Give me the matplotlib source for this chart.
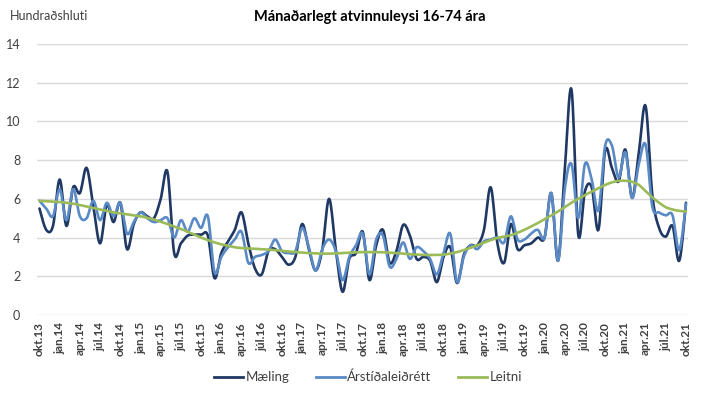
import numpy as np
import matplotlib
matplotlib.use("Agg")
import matplotlib.pyplot as plt
from matplotlib.lines import Line2D

plt.rcParams['font.family'] = ['Lato', 'DejaVu Sans']

# ---- data ----
months = ["okt", "nóv", "des", "jan", "feb", "mar", "apr", "maí", "jún", "júl", "ágú", "sep"]
start_year = 13
n_points = 97
tick_every = 3

maeling = [5.5, 4.4, 4.6, 7.0, 4.6, 6.6, 6.3, 7.6, 5.6, 3.7, 5.7, 4.8, 5.8, 3.4, 4.7, 5.3,
           5.1, 5.0, 6.0, 7.4, 3.2, 3.7, 4.1, 4.15, 4.15, 4.1, 1.9, 3.2, 3.8, 4.4, 5.3, 3.7,
           2.4, 2.1, 3.3, 3.4, 3.0, 2.6, 3.0, 4.7, 3.4, 2.3, 3.4, 6.0, 3.4, 1.2, 2.9, 3.2,
           4.3, 1.8, 3.6, 4.4, 2.7, 3.3, 4.65, 4.1, 2.9, 3.0, 2.8, 1.7, 3.0, 3.5, 1.65, 3.1,
           3.6, 3.6, 4.4, 6.6, 3.7, 2.7, 4.7, 3.4, 3.6, 3.7, 4.0, 4.0, 6.3, 2.8, 7.5, 11.65,
           4.15, 6.4, 6.6, 4.4, 8.5, 7.6, 6.9, 8.55, 6.05, 8.4, 10.8, 6.2, 4.5, 4.05, 4.6, 2.8,
           5.8]

arstidaleidrett = [5.9, 5.5, 5.1, 6.5, 4.9, 6.5, 5.1, 5.0, 5.9, 4.9, 5.8, 5.1, 5.8, 4.2, 4.8, 5.3,
                   5.0, 4.8, 4.9, 5.0, 4.0, 4.9, 4.3, 5.0, 4.5, 5.1, 2.2, 3.0, 3.5, 3.9, 4.3, 2.7,
                   3.0, 3.1, 3.3, 3.9, 3.3, 3.2, 3.3, 4.5, 3.5, 2.3, 3.4, 3.9, 3.3, 1.8, 3.0, 3.6,
                   4.2, 2.1, 3.9, 4.1, 2.5, 2.9, 3.75, 2.9, 3.5, 3.3, 2.9, 2.1, 3.2, 4.2, 1.7, 3.0,
                   3.6, 3.4, 3.8, 3.9, 4.0, 3.75, 5.1, 3.9, 3.9, 4.2, 4.4, 4.0, 6.3, 2.8, 6.5, 7.8,
                   5.0, 7.8, 7.0, 5.4, 8.75, 8.75, 7.1, 8.4, 6.05, 7.8, 8.8, 5.6, 5.3, 5.15, 5.15, 3.35,
                   5.75]

leitni = [5.9, 5.88, 5.86, 5.84, 5.8, 5.75, 5.68, 5.6, 5.52, 5.45, 5.38, 5.3, 5.25, 5.2, 5.15, 5.1,
          5.02, 4.93, 4.82, 4.7, 4.57, 4.45, 4.3, 4.15, 4.0, 3.87, 3.75, 3.65, 3.57, 3.5, 3.46, 3.44,
          3.42, 3.4, 3.38, 3.35, 3.32, 3.28, 3.25, 3.22, 3.2, 3.18, 3.17, 3.17, 3.18, 3.2, 3.22, 3.24,
          3.25, 3.25, 3.25, 3.24, 3.22, 3.2, 3.17, 3.14, 3.12, 3.1, 3.1, 3.1, 3.12, 3.17, 3.25, 3.35,
          3.47, 3.6, 3.73, 3.87, 3.98, 4.05, 4.12, 4.25, 4.4, 4.57, 4.75, 4.95, 5.15, 5.35, 5.57, 5.8,
          6.0, 6.2, 6.37, 6.55, 6.72, 6.85, 6.93, 6.93, 6.88, 6.72, 6.4, 6.08, 5.8, 5.57, 5.45, 5.38,
          5.35]

series_names = ["Mæling", "Árstíðaleiðrétt", "Leitni"]
colors = ["#1F3864", "#5A8AC6", "#9BBB59"]

labels = []
for i in range(n_points):
    m = i % 12
    y = start_year + (i + 9) // 12
    labels.append(f"{months[m]}.{y:02d}")


def smooth(y, steps=12):
    # Catmull-Rom style smoothing through the data points (like Excel smoothed lines)
    y = np.asarray(y, dtype=float)
    x = np.arange(len(y), dtype=float)
    p = np.concatenate([[y[0]], y, [y[-1]]])
    px = np.concatenate([[x[0]], x, [x[-1]]])
    xs, ys = [], []
    t = np.linspace(0, 1, steps, endpoint=False)
    for k in range(1, len(p) - 2):
        p0, p1, p2, p3 = p[k - 1], p[k], p[k + 1], p[k + 2]
        x0, x1, x2, x3 = px[k - 1], px[k], px[k + 1], px[k + 2]
        c1y = p1 + (p2 - p0) / 6
        c2y = p2 - (p3 - p1) / 6
        c1x = x1 + (x2 - x0) / 6
        c2x = x2 - (x3 - x1) / 6
        bx = (1 - t) ** 3 * x1 + 3 * (1 - t) ** 2 * t * c1x + 3 * (1 - t) * t ** 2 * c2x + t ** 3 * x2
        by = (1 - t) ** 3 * p1 + 3 * (1 - t) ** 2 * t * c1y + 3 * (1 - t) * t ** 2 * c2y + t ** 3 * p2
        xs.append(bx)
        ys.append(by)
    xs.append([x[-1]])
    ys.append([y[-1]])
    return np.concatenate(xs), np.concatenate(ys)


fig = plt.figure(figsize=(7.13, 3.97), dpi=100)
ax = fig.add_axes([37 / 713, 1 - 315 / 397, (688 - 37) / 713, (315 - 44) / 397])

for data, c in zip([maeling, arstidaleidrett, leitni], colors):
    sx, sy = smooth(data)
    ax.plot(sx, sy, color=c, lw=1.9, solid_capstyle='round', zorder=3)

ax.set_xlim(-0.37, 96.3)
ax.set_ylim(0, 14)
ax.set_yticks(range(0, 15, 2))
ax.set_yticklabels([str(v) for v in range(0, 15, 2)], fontsize=9, color="#404040")
tick_pos = list(range(0, n_points, tick_every))
ax.set_xticks(tick_pos)
ax.set_xticklabels([labels[i] for i in tick_pos], rotation=90, fontsize=8.5,
                   fontweight='bold', color="#404040")
ax.tick_params(axis='both', length=0)
ax.tick_params(axis='y', pad=12)
ax.tick_params(axis='x', pad=5)
for s in ax.spines.values():
    s.set_visible(False)
ax.grid(axis='y', color="#D9D9D9", lw=1.0, zorder=0)
ax.set_axisbelow(True)

fig.text(10 / 713, 1 - 16 / 397, "Hundraðshluti", fontsize=9, color="#404040",
         ha='left', va='center')
fig.text(370 / 713, 1 - 17 / 397, "Mánaðarlegt atvinnuleysi 16-74 ára", fontsize=10.5,
         fontweight='bold', color="#000000", ha='center', va='center')

handles = [Line2D([0], [0], color=c, lw=2) for c in colors]
fig.legend(handles, series_names, loc='center', bbox_to_anchor=(368 / 713, 1 - 377 / 397),
           ncol=3, frameon=False, fontsize=9.5, handlelength=2.2, handletextpad=0.2,
           columnspacing=2.0, labelcolor="#404040")

fig.savefig("out.png", dpi=100)
